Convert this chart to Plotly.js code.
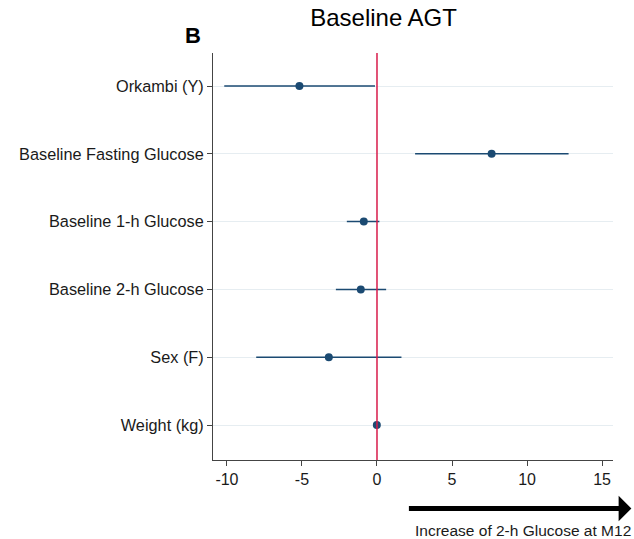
<!DOCTYPE html>
<html>
<head>
<meta charset="utf-8">
<script src="https://cdn.plot.ly/plotly-3.0.1.min.js"></script>
<style>html,body{margin:0;padding:0;background:#fff;}#chart{width:634px;height:539px;}</style>
</head>
<body>
<div id="chart"></div>
<script>
var categories = ["Orkambi (Y)", "Baseline Fasting Glucose", "Baseline 1-h Glucose", "Baseline 2-h Glucose", "Sex (F)", "Weight (kg)"];
var estimates = [-5.17, 7.64, -0.88, -1.08, -3.21, -0.01];
var lower = [-10.18, 2.54, -2.01, -2.74, -8.05, -0.15];
var upper = [-0.13, 12.77, 0.16, 0.61, 1.63, 0.12];
var xTicks = [-10, -5, 0, 5, 10, 15];
var xTickLabels = ["-10", "-5", "0", "5", "10", "15"];

var plus = estimates.map(function (e, i) { return upper[i] - e; });
var minus = estimates.map(function (e, i) { return e - lower[i]; });

var navy = "#1b4a72";
var font = "Liberation Sans, Arial, sans-serif";

var trace = {
  type: "scatter",
  mode: "markers",
  x: estimates,
  y: categories,
  marker: { color: navy, size: 8 },
  error_x: { type: "data", symmetric: false, array: plus, arrayminus: minus, color: navy, thickness: 1.5, width: 0 },
  hoverinfo: "x+y",
  showlegend: false
};

var layout = {
  width: 634, height: 539,
  margin: { l: 213, r: 21, t: 53, b: 79 },
  paper_bgcolor: "#fff", plot_bgcolor: "#fff",
  font: { family: font, size: 16, color: "#1a1a1a" },
  title: { text: "Baseline AGT", font: { family: font, size: 24, color: "#000" }, x: 0.605, xanchor: "center", y: 0.967, yanchor: "middle", xref: "container", yref: "container" },
  xaxis: {
    range: [-10.93, 15.73], tickvals: xTicks, ticktext: xTickLabels,
    showgrid: false, zeroline: false, showline: true, linecolor: "#444", linewidth: 1,
    ticks: "outside", ticklen: 5, tickcolor: "#444", tickfont: { size: 16, color: "#1a1a1a" }
  },
  yaxis: {
    type: "category", categoryorder: "array", categoryarray: categories,
    range: [5.516, -0.487],
    showgrid: true, gridcolor: "#e6edf1", gridwidth: 1, zeroline: false,
    showline: true, linecolor: "#444", linewidth: 1,
    ticks: "outside", ticklen: 5, tickcolor: "#444", tickfont: { size: 16.3, color: "#1a1a1a" }
  },
  shapes: [
    { type: "line", xref: "x", yref: "paper", x0: 0, x1: 0, y0: 0, y1: 1, line: { color: "#d81b4a", width: 1.5 } }
  ],
  annotations: [
    { xref: "paper", yref: "paper", x: -0.049, y: 1.044, text: "<b>B</b>", showarrow: false, font: { family: font, size: 22, color: "#000" }, xanchor: "center", yanchor: "middle" },
    { xref: "paper", yref: "paper", x: 1.046, y: -0.119, text: "", showarrow: true, ax: -224, ay: 0, axref: "pixel", ayref: "pixel", arrowhead: 1, arrowsize: 0.85, arrowwidth: 5, arrowcolor: "#000", standoff: 0, startstandoff: 0 },
    { xref: "paper", yref: "paper", x: 0.774, y: -0.174, text: "Increase of 2-h Glucose at M12", showarrow: false, font: { family: font, size: 15.5, color: "#1a1a1a" }, xanchor: "center", yanchor: "middle" }
  ]
};

Plotly.newPlot("chart", [trace], layout, { displayModeBar: false, staticPlot: true });
</script>
</body>
</html>
